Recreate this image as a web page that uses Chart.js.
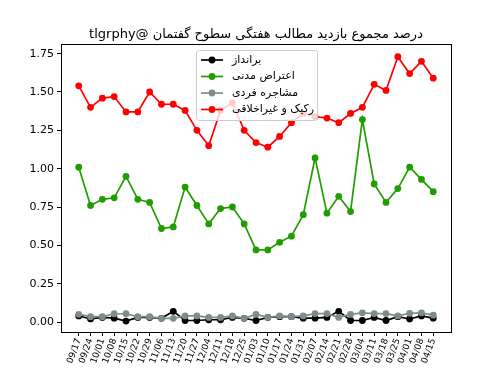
<!DOCTYPE html>
<html>
<head>
<meta charset="utf-8">
<script src="https://cdn.jsdelivr.net/npm/chart.js@4/dist/chart.umd.min.js"></script>
<style>
  html, body { margin: 0; padding: 0; background: #fff; }
  #c { display: block; }
</style>
</head>
<body>
<canvas id="c" width="500" height="375"></canvas>
<script>
const TITLE = 'درصد مجموع بازدید مطالب هفتگی سطوح گفتمان @tlgrphy'

const dates = ['09/17', '09/24', '10/01', '10/08', '10/15', '10/22', '10/29', '11/06', '11/13', '11/20',
  '11/27', '12/04', '12/11', '12/18', '12/25', '01/03', '01/10', '01/17', '01/24', '01/31',
  '02/07', '02/14', '02/21', '02/28', '03/04', '03/11', '03/18', '03/25', '04/01', '04/08', '04/15']

const seriesNames = ['برانداز', 'اعتراض مدنی', 'مشاجره فردی', 'رکیک و غیراخلاقی']

const barandaz = [0.04, 0.02, 0.03, 0.025, 0.006, 0.03, 0.03, 0.024, 0.07, 0.01,
  0.01, 0.015, 0.015, 0.03, 0.024, 0.01, 0.03, 0.035, 0.035, 0.025,
  0.025, 0.03, 0.07, 0.01, 0.01, 0.03, 0.01, 0.035, 0.02, 0.04, 0.025]

const eteraz = [1.01, 0.76, 0.80, 0.81, 0.95, 0.80, 0.78, 0.61, 0.62, 0.88,
  0.76, 0.64, 0.74, 0.75, 0.64, 0.47, 0.47, 0.52, 0.56, 0.70,
  1.07, 0.71, 0.82, 0.72, 1.32, 0.90, 0.78, 0.87, 1.01, 0.93, 0.85]

const moshajere = [0.05, 0.035, 0.035, 0.054, 0.054, 0.035, 0.035, 0.024, 0.024, 0.04,
  0.04, 0.03, 0.03, 0.04, 0.024, 0.05, 0.03, 0.04, 0.035, 0.04,
  0.055, 0.055, 0.03, 0.05, 0.06, 0.055, 0.055, 0.04, 0.057, 0.06, 0.045]

const rakik = [1.54, 1.40, 1.46, 1.47, 1.37, 1.37, 1.50, 1.42, 1.42, 1.38,
  1.25, 1.15, 1.38, 1.43, 1.25, 1.17, 1.14, 1.21, 1.30, 1.36,
  1.34, 1.33, 1.30, 1.36, 1.40, 1.55, 1.51, 1.73, 1.62, 1.70, 1.59]

const yTicks = [0, 0.25, 0.5, 0.75, 1.0, 1.25, 1.5, 1.75]

const COLORS = ['#000000', '#1f9e00', '#7f8c8d', '#ff0000']
const FONT = 'DejaVu Sans'

function toPoints(arr) {
  return arr.map((v, i) => ({ x: i, y: v }))
}

const allSeries = [barandaz, eteraz, moshajere, rakik]
// matplotlib draws later series on top, chart.js wants a lower order for that
const datasets = allSeries.map((arr, i) => ({
  label: seriesNames[i],
  data: toPoints(arr),
  borderColor: COLORS[i],
  backgroundColor: COLORS[i],
  borderWidth: 1.7,
  pointRadius: 3.4,
  pointBorderWidth: 0,
  pointHoverRadius: 3.4,
  tension: 0,
  order: allSeries.length - i,
}))

const frameAndLegend = {
  id: 'frameAndLegend',
  afterDatasetsDraw(chart) {
    const { ctx, chartArea: a } = chart
    ctx.save()
    ctx.strokeStyle = '#000'
    ctx.lineWidth = 1
    ctx.strokeRect(Math.round(a.left) + 0.5, Math.round(a.top) + 0.5,
      Math.round(a.right - a.left), Math.round(a.bottom - a.top))

    // legend box, upper centre like matplotlib's "best"
    const bx = 196, by = 50, bw = 121, bh = 70, r = 3
    ctx.globalAlpha = 0.8
    ctx.fillStyle = '#fff'
    ctx.beginPath()
    ctx.roundRect(bx + 0.5, by + 0.5, bw, bh, r)
    ctx.fill()
    ctx.globalAlpha = 1
    ctx.strokeStyle = '#cccccc'
    ctx.stroke()

    ctx.font = '11px "' + FONT + '"'
    ctx.textBaseline = 'middle'
    ctx.textAlign = 'left'
    seriesNames.forEach((name, i) => {
      const y = by + 10 + i * 16.5
      ctx.strokeStyle = COLORS[i]
      ctx.lineWidth = 1.7
      ctx.beginPath()
      ctx.moveTo(201, y)
      ctx.lineTo(223, y)
      ctx.stroke()
      ctx.fillStyle = COLORS[i]
      ctx.beginPath()
      ctx.arc(212, y, 3.4, 0, Math.PI * 2)
      ctx.fill()
      ctx.fillStyle = '#000'
      ctx.direction = 'rtl'
      ctx.textAlign = 'left'
      ctx.fillText(name, 232, y)
    })

    ctx.direction = 'rtl'
    ctx.textAlign = 'center'
    ctx.textBaseline = 'alphabetic'
    ctx.font = '13px "' + FONT + '"'
    ctx.fillStyle = '#000'
    ctx.fillText(TITLE, (a.left + a.right) / 2, 38)
    ctx.restore()
  },
}

new Chart(document.getElementById('c'), {
  type: 'line',
  data: { datasets },
  options: {
    responsive: false,
    animation: false,
    events: [],
    layout: { padding: { left: 0, top: 44, right: 49, bottom: 0 } },
    scales: {
      x: {
        type: 'linear',
        min: -1.5,
        max: 31.5,
        afterBuildTicks(scale) {
          scale.ticks = dates.map((d, i) => ({ value: i }))
        },
        afterFit(scale) {
          scale.height = 43
        },
        grid: { drawOnChartArea: false, drawTicks: true, tickLength: 4, color: '#000' },
        border: { display: false },
        ticks: {
          autoSkip: false,
          minRotation: 70,
          maxRotation: 70,
          padding: 1,
          color: '#000',
          font: { family: FONT, size: 9 },
          callback: (v) => dates[v] ?? '',
        },
      },
      y: {
        min: -0.065,
        max: 1.813,
        afterBuildTicks(scale) {
          scale.ticks = yTicks.map((v) => ({ value: v }))
        },
        afterFit(scale) {
          scale.width = 61
        },
        grid: { drawOnChartArea: false, drawTicks: true, tickLength: 4, color: '#000' },
        border: { display: false },
        ticks: {
          padding: 3,
          color: '#000',
          font: { family: FONT, size: 11 },
          callback: (v) => v.toFixed(2),
        },
      },
    },
    plugins: {
      legend: { display: false },
      title: { display: false },
      tooltip: { enabled: false },
    },
  },
  plugins: [frameAndLegend],
})
</script>
</body>
</html>
